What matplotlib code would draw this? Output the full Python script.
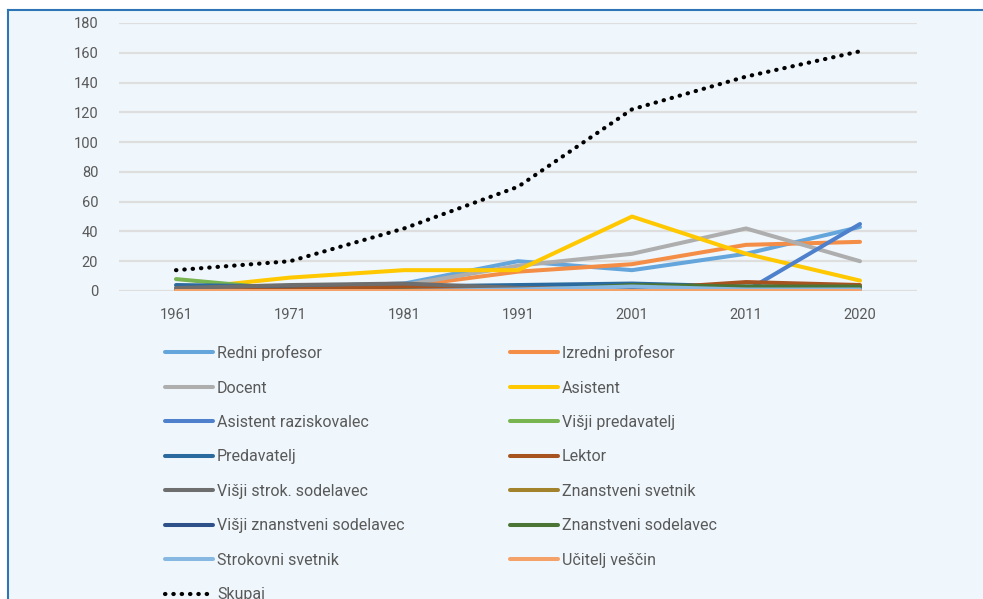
import matplotlib.pyplot as plt
from matplotlib.lines import Line2D
from matplotlib import rcParams

rcParams['font.family'] = ['Roboto', 'DejaVu Sans']

years = ['1961', '1971', '1981', '1991', '2001', '2011', '2020']

redni_profesor = [2, 3, 5, 20, 14, 25, 43]
izredni_profesor = [1, 2, 3, 13, 18, 31, 33]
docent = [1, 2, 4, 17, 25, 42, 20]
asistent = [1, 9, 14, 14, 50, 25, 7]
asistent_raziskovalec = [0, 0, 0, 0, 0, 0, 45]
visji_predavatelj = [8, 1, 1, 1, 1, 2, 2]
predavatelj = [4, 3, 3, 4, 5, 3, 3]
lektor = [0, 1, 3, 2, 1, 6, 4]
visji_strok_sodelavec = [2, 4, 5, 2, 1, 1, 1]
znanstveni_svetnik = [0, 0, 0, 0, 0, 1, 1]
visji_znanstveni_sodelavec = [0, 0, 0, 0, 1, 1, 1]
znanstveni_sodelavec = [0, 0, 0, 0, 4, 3, 3]
strokovni_svetnik = [0, 0, 0, 1, 3, 1, 1]
ucitelj_vescin = [0, 0, 0, 0, 0, 0, 0]
skupaj = [14, 20, 42, 70, 122, 144, 161]

series = [
    ('Redni profesor', redni_profesor, '#64A5DC'),
    ('Izredni profesor', izredni_profesor, '#F48D45'),
    ('Docent', docent, '#AEAEAE'),
    ('Asistent', asistent, '#FFC800'),
    ('Asistent raziskovalec', asistent_raziskovalec, '#4E80CC'),
    ('Višji predavatelj', visji_predavatelj, '#78B450'),
    ('Predavatelj', predavatelj, '#2A6A9E'),
    ('Lektor', lektor, '#A65320'),
    ('Višji strok. sodelavec', visji_strok_sodelavec, '#6E6E6E'),
    ('Znanstveni svetnik', znanstveni_svetnik, '#A2822A'),
    ('Višji znanstveni sodelavec', visji_znanstveni_sodelavec, '#2D5188'),
    ('Znanstveni sodelavec', znanstveni_sodelavec, '#4A7535'),
    ('Strokovni svetnik', strokovni_svetnik, '#86B8E2'),
    ('Učitelj veščin', ucitelj_vescin, '#F4A26A'),
]

BG = '#EFF7FC'
TXT = '#595959'

fig = plt.figure(figsize=(9.83, 5.99), dpi=100)
fig.patch.set_facecolor('white')

# panel background with blue border on top and left
W, H = 983, 599
fig.patches.append(plt.Rectangle((8 / W, 0), 1, 1 - 9 / H, transform=fig.transFigure,
                                 facecolor=BG, edgecolor='none', zorder=-5))
fig.add_artist(Line2D([7.5 / W, 1], [1 - 9.5 / H, 1 - 9.5 / H], color='#2E75B6', lw=1.5, zorder=-4))
fig.add_artist(Line2D([7.5 / W, 7.5 / W], [0, 1 - 9.5 / H], color='#2E75B6', lw=1.5, zorder=-4))

ax = fig.add_axes([119 / W, (H - 291) / H, (917 - 119) / W, (291 - 23) / H])
ax.set_facecolor('none')

x = range(len(years))
handles = []
for name, vals, col in series:
    h, = ax.plot(x, vals, color=col, lw=2.9, label=name, solid_capstyle='round')
    handles.append(h)
h, = ax.plot(x, skupaj, color='black', lw=3, linestyle=(0, (0.1, 1.9)),
             dash_capstyle='round', label='Skupaj')
handles.append(h)

ax.set_xlim(-0.5, len(years) - 0.5)
ax.set_ylim(0, 180)
ax.set_yticks(range(0, 181, 20))
ax.set_xticks(list(x))
ax.set_xticklabels(years)
ax.grid(axis='y', color='#DEDEDE', lw=1.6)
ax.set_axisbelow(True)
for s in ax.spines.values():
    s.set_visible(False)
ax.tick_params(length=0, labelsize=10.5, labelcolor=TXT)
ax.tick_params(axis='y', pad=15)
ax.tick_params(axis='x', pad=12)

# two-column legend, Excel row-major ordering
col1 = handles[0::2]
col2 = handles[1::2]
leg_kw = dict(frameon=False, fontsize=11.5, labelcolor=TXT, handlelength=3.0,
              handletextpad=0.25, labelspacing=1.22, borderpad=0, borderaxespad=0)
leg1 = fig.legend(handles=col1, loc='upper left', bbox_to_anchor=(165 / W, 1 - 345 / H), **leg_kw)
leg2 = fig.legend(handles=col2, loc='upper left', bbox_to_anchor=(510 / W, 1 - 345 / H), **leg_kw)

fig.savefig('out.png', dpi=100, facecolor=fig.get_facecolor())
